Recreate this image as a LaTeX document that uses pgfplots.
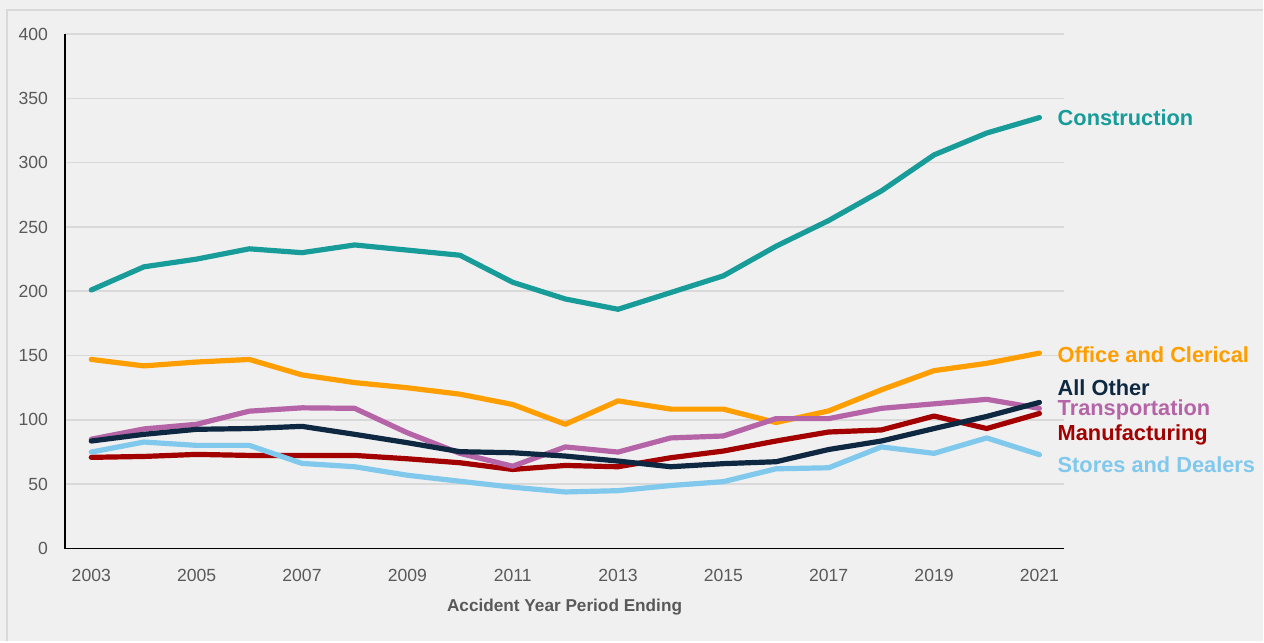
\documentclass[border=0pt]{standalone}
\usepackage{pgfplots}
\pgfplotsset{compat=1.18}
\usepackage{fontspec}
\setmainfont{Liberation Sans}

\definecolor{bgc}{HTML}{F0F0F0}
\definecolor{framec}{HTML}{D9D9D9}
\definecolor{gridc}{HTML}{D9D9D9}
\definecolor{tickc}{HTML}{595959}
\definecolor{cons}{HTML}{179C99}
\definecolor{office}{HTML}{FF9E00}
\definecolor{other}{HTML}{0E2841}
\definecolor{transp}{HTML}{B565A7}
\definecolor{manuf}{HTML}{A30000}
\definecolor{stores}{HTML}{80C8EC}

\pgfplotstableread{
year cons office other transp manuf stores
2003 201 147 83.6 85 70.9 75
2004 219 142 88.8 93 71.6 82.8
2005 225 145 92.7 96.6 73.2 80.2
2006 233 147 93.3 106.8 72.4 80.2
2007 230 135 95 109.4 72.4 66.2
2008 236 129 88.8 109 72.4 63.6
2009 232 125 82.3 90 69.8 57
2010 228 120 75.3 74 66.7 52.3
2011 207 112 74.5 64 61.5 47.7
2012 194 96.6 71.9 79 64.6 44
2013 186 114.8 68 75 63.6 45
2014 199 108.4 63.6 86 70.6 49
2015 212 108.4 66 87.5 75.8 52
2016 235 98 67.5 101 83.6 62
2017 255 107 77 101 90.6 62.8
2018 278 123.4 83.6 109 92.2 79
2019 306 138.3 93.3 112.5 103 74
2020 323 144 102.7 116 93.3 86
2021 335 151.9 113.6 109 105 73
}\datatable

\begin{document}
\begin{tikzpicture}
  % chart area background and frame
  \fill[bgc] (-32.5pt,-46.5pt) rectangle (599.5pt,274.5pt);
  \draw[framec, line width=1pt] (-29pt,-46.5pt) -- (-29pt,269.5pt) -- (599.5pt,269.5pt);
  \begin{axis}[
      scale only axis,
      width=500pt, height=257.5pt,
      xmin=2002.5, xmax=2021.47,
      ymin=0, ymax=400,
      axis lines=left,
      axis line style={-, black, line width=0.8pt},
      xtick={2003,2005,...,2021},
      ytick={0,50,...,400},
      major tick length=0pt,
      ymajorgrids,
      grid style={gridc, line width=0.8pt},
      /pgf/number format/1000 sep={},
      /pgf/number format/assume math mode=true,
      tick label style={font=\fontsize{8.8}{10}\selectfont, text=tickc},
      xticklabel style={yshift=-7pt},
      yticklabel style={xshift=-5pt},
      xlabel={\textbf{Accident Year Period Ending}},
      xlabel style={font=\fontsize{8.6}{10}\selectfont, text=tickc, yshift=-1.5pt},
      clip=false,
      every axis plot/.append style={line width=2.6pt, line join=round, line cap=round},
    ]
    \addplot[cons] table[x=year, y=cons] {\datatable};
    \addplot[office] table[x=year, y=office] {\datatable};
    \addplot[manuf] table[x=year, y=manuf] {\datatable};
    \addplot[stores] table[x=year, y=stores] {\datatable};
    \addplot[transp] table[x=year, y=transp] {\datatable};
    \addplot[other] table[x=year, y=other] {\datatable};

    \begin{scope}[every node/.style={anchor=west, inner sep=0pt, font=\fontsize{10.9}{12}\selectfont\bfseries}]
      \node[text=cons] at (axis cs:2021.34,334.8) {Construction};
      \node[text=office] at (axis cs:2021.34,150.7) {Office and Clerical};
      \node[text=other] at (axis cs:2021.34,124.7) {All Other};
      \node[text=transp] at (axis cs:2021.34,107.6) {Transportation};
      \node[text=manuf] at (axis cs:2021.34,88.2) {Manufacturing};
      \node[text=stores] at (axis cs:2021.34,64.9) {Stores and Dealers};
    \end{scope}
  \end{axis}
\end{tikzpicture}
\end{document}
